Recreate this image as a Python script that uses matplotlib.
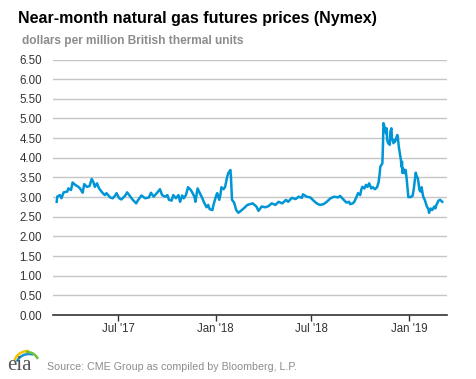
import matplotlib
matplotlib.use("Agg")
import matplotlib.pyplot as plt
import pandas as pd
import numpy as np
from matplotlib.patches import Arc

dates = [
 "2017-03-07","2017-03-08","2017-03-13","2017-03-16","2017-03-20","2017-03-27","2017-03-29",
 "2017-04-03","2017-04-06","2017-04-11","2017-04-17","2017-04-20","2017-04-25","2017-04-28",
 "2017-05-03","2017-05-08","2017-05-12","2017-05-15","2017-05-18","2017-05-22","2017-05-26",
 "2017-06-02","2017-06-06","2017-06-09","2017-06-16","2017-06-21","2017-06-26","2017-06-28",
 "2017-07-03","2017-07-07","2017-07-14","2017-07-18","2017-07-24","2017-07-28",
 "2017-08-04","2017-08-08","2017-08-14","2017-08-21","2017-08-28",
 "2017-09-01","2017-09-06","2017-09-12","2017-09-18","2017-09-22","2017-09-28",
 "2017-10-02","2017-10-05","2017-10-10","2017-10-13","2017-10-18","2017-10-23","2017-10-26","2017-10-30",
 "2017-11-02","2017-11-06","2017-11-10","2017-11-14","2017-11-17","2017-11-22","2017-11-24","2017-11-28",
 "2017-12-04","2017-12-07","2017-12-11","2017-12-15","2017-12-18","2017-12-21","2017-12-26","2017-12-28",
 "2018-01-02","2018-01-04","2018-01-08","2018-01-10","2018-01-12","2018-01-16","2018-01-19",
 "2018-01-23","2018-01-25","2018-01-29","2018-01-30","2018-02-01","2018-02-05","2018-02-09",
 "2018-02-13","2018-02-16","2018-02-23",
 "2018-03-02","2018-03-12","2018-03-19","2018-03-23","2018-03-29",
 "2018-04-05","2018-04-11","2018-04-17","2018-04-24","2018-04-30",
 "2018-05-07","2018-05-14","2018-05-18","2018-05-25",
 "2018-06-01","2018-06-07","2018-06-13","2018-06-15","2018-06-22","2018-06-29",
 "2018-07-05","2018-07-11","2018-07-17","2018-07-24","2018-07-30",
 "2018-08-06","2018-08-13","2018-08-20","2018-08-24","2018-08-31",
 "2018-09-05","2018-09-10","2018-09-12","2018-09-17","2018-09-20","2018-09-24","2018-09-27",
 "2018-10-01","2018-10-03","2018-10-05","2018-10-09","2018-10-12","2018-10-15","2018-10-18",
 "2018-10-22","2018-10-25","2018-10-29",
 "2018-11-02","2018-11-05","2018-11-07","2018-11-08","2018-11-12","2018-11-13","2018-11-14",
 "2018-11-16","2018-11-19","2018-11-20","2018-11-21","2018-11-23","2018-11-26","2018-11-27",
 "2018-11-29","2018-11-30",
 "2018-12-03","2018-12-05","2018-12-06","2018-12-10","2018-12-11","2018-12-13","2018-12-17",
 "2018-12-18","2018-12-19","2018-12-20","2018-12-21","2018-12-24","2018-12-26","2018-12-28",
 "2018-12-31",
 "2019-01-04","2019-01-08","2019-01-10","2019-01-14","2019-01-16","2019-01-18","2019-01-21",
 "2019-01-23","2019-01-25","2019-01-28","2019-01-31",
 "2019-02-04","2019-02-07","2019-02-08","2019-02-11","2019-02-14","2019-02-18","2019-02-20",
 "2019-02-22","2019-02-26","2019-03-01","2019-03-05",
]
prices = [
 2.88,3.01,3.05,2.97,3.12,3.14,3.22,
 3.18,3.37,3.31,3.26,3.22,3.11,3.33,
 3.26,3.28,3.46,3.39,3.26,3.35,3.22,
 3.10,3.05,3.10,2.99,2.97,3.05,3.10,
 2.97,2.94,3.03,3.12,3.01,2.94,
 2.84,2.93,3.04,2.97,2.99,
 3.11,3.01,3.10,3.20,3.05,3.01,
 3.05,2.93,2.91,3.05,2.97,3.05,2.88,3.04,
 2.97,3.05,3.25,3.20,3.14,3.01,2.88,3.22,
 3.05,2.97,2.84,2.74,2.80,2.69,2.67,2.80,
 3.03,3.10,2.93,3.05,3.25,3.20,3.26,
 3.52,3.61,3.69,3.52,2.93,2.86,2.67,
 2.60,2.63,2.71,
 2.80,2.84,2.76,2.65,2.76,
 2.74,2.77,2.84,2.80,2.88,
 2.84,2.93,2.88,2.98,
 2.95,3.01,2.98,3.07,3.01,2.99,
 2.91,2.84,2.80,2.82,2.88,
 2.97,3.01,2.99,3.03,2.93,
 2.86,2.88,2.82,2.84,2.88,3.00,3.10,
 3.05,3.18,3.26,3.22,3.31,3.26,3.35,
 3.22,3.25,3.20,
 3.25,3.39,3.61,3.77,3.86,4.28,4.88,
 4.79,4.62,4.75,4.45,4.37,4.33,4.66,
 4.75,4.50,
 4.37,4.45,4.41,4.58,4.54,4.28,3.94,
 3.77,3.90,3.61,3.73,3.61,3.69,3.44,
 3.00,
 3.00,3.03,3.18,3.62,3.52,3.48,3.18,
 3.14,3.25,3.01,2.93,
 2.76,2.69,2.60,2.71,2.67,2.76,2.71,
 2.80,2.91,2.93,2.88,
]
yticks = np.arange(0, 6.51, 0.5)
xtick_dates = ["2017-07-01", "2018-01-01", "2018-07-01", "2019-01-01"]
xtick_labels = ["Jul '17", "Jan '18", "Jul '18", "Jan '19"]

plt.rcParams['font.family'] = ['Liberation Sans', 'DejaVu Sans']

fig = plt.figure(figsize=(4.77, 3.79), dpi=100)
ax = fig.add_axes([53/477, 1 - 315/379, (447 - 53)/477, (315 - 59.5)/379])

x = pd.to_datetime(dates)
ax.plot(x, prices, color="#0096d6", lw=1.8, solid_joinstyle="round", zorder=3)

ax.set_xlim(pd.Timestamp("2017-02-28"), pd.Timestamp("2019-03-14"))
ax.set_ylim(0, 6.5)
ax.set_yticks(yticks)
ax.set_yticklabels([f"{v:.2f}" for v in yticks])
ax.yaxis.grid(True, color="#c6c6c6", lw=1)
ax.set_axisbelow(True)
for s in ["top", "right", "left"]:
    ax.spines[s].set_visible(False)
ax.spines["bottom"].set_color("#333333")
ax.spines["bottom"].set_linewidth(1.2)
ax.tick_params(axis="y", length=0, pad=8, labelsize=8.3, labelcolor="#333333")
ax.set_xticks(pd.to_datetime(xtick_dates))
ax.set_xticklabels(xtick_labels)
ax.tick_params(axis="x", length=4, width=1, color="#333333", labelsize=8.3, labelcolor="#333333", pad=2)

fig.text(18/477, 1 - 18/379, "Near-month natural gas futures prices (Nymex)",
         fontsize=11.5, fontweight="bold", color="#000000", va="center", ha="left")
fig.text(22/477, 1 - 41/379, "dollars per million British thermal units",
         fontsize=8.6, fontweight="bold", color="#8c8c8c", va="center", ha="left")
fig.text(47/477, 1 - 367/379, "Source: CME Group as compiled by Bloomberg, L.P.",
         fontsize=7.65, color="#8c8c8c", va="center", ha="left")

# eia logo
fig.text(7/477, 1 - 365/379, "eia", fontsize=15, family="Liberation Serif",
         color="#555555", va="center", ha="left")
lax = fig.add_axes([0, 0, 1, 1], facecolor="none")
lax.set_xlim(0, 477); lax.set_ylim(379, 0); lax.axis("off")
lax.add_patch(Arc((28, 364), 28, 26, theta1=195, theta2=275, color="#f2c200", lw=1.8))
lax.add_patch(Arc((29, 366), 26, 24, theta1=200, theta2=290, color="#1e90d6", lw=1.8))
lax.add_patch(Arc((27, 364), 24, 24, theta1=265, theta2=335, color="#6cbf3f", lw=1.8))

fig.savefig("out.png", dpi=100)
